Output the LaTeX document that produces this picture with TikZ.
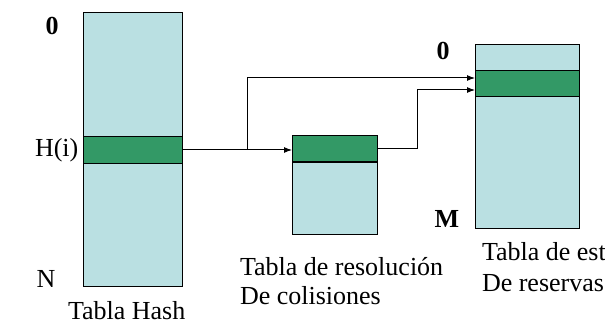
\documentclass[tikz,border=0pt]{standalone}
\usepackage{fontspec}
\setmainfont{Liberation Serif}
\newfontfamily\labelfont{Liberation Serif}
\usetikzlibrary{arrows.meta}
\definecolor{tablefill}{HTML}{BAE0E2}
\definecolor{slotfill}{HTML}{339966}

\begin{document}
\begin{tikzpicture}[
    x=1pt, y=-1pt,
    every node/.style={font=\labelfont\fontsize{26}{30}\selectfont, inner sep=0pt, outer sep=0pt},
    table/.style={draw, fill=tablefill, line width=1pt, anchor=north west},
    slot/.style={draw, fill=slotfill, line width=1pt, anchor=north west},
    link/.style={-{Latex[length=8pt,width=6pt]}, line width=1pt},
    caption/.style={anchor=base west},
    bold index/.style={anchor=base, font=\labelfont\fontsize{26}{30}\selectfont\bfseries}
    ]
    \useasboundingbox (0,0) rectangle (605,326);

    % tables
    \node[table, minimum width=99pt, minimum height=273pt] (hash) at (83,13) {};
    \node[slot, minimum width=99pt, minimum height=26pt] (hslot) at (83,137) {};
    \node[table, minimum width=85pt, minimum height=98pt] (coll) at (292,136) {};
    \node[slot, minimum width=85pt, minimum height=26pt] (cslot) at (292,136) {};
    \node[table, minimum width=104pt, minimum height=183pt] (res) at (475,45) {};
    \node[slot, minimum width=104pt, minimum height=26pt] (rslot) at (475,71) {};

    % indices
    \node[bold index] (hzero) at (52,35) {0};
    \node[anchor=base west] (hidx) at (35,157) {H(i)};
    \node[anchor=base] (hlast) at (46,287) {N};
    \node[bold index] (rzero) at (443,60) {0};
    \node[bold index] (rlast) at (447,227) {M};

    % captions
    \node[caption] (hashcap) at (68,319) {Tabla Hash};
    \node[caption] (collcap) at (240,275) {Tabla de resolución};
    \node[caption] (collcapb) at (240,304) {De colisiones};
    \node[caption] (rescap) at (482,260) {Tabla de est};
    \node[caption] (rescapb) at (482,291) {De reservas};

    % links
    \coordinate (fork) at (247,150);
    \coordinate (inA) at (475,78);
    \coordinate (bend) at (417,149);
    \coordinate (inB) at (475,90);
    \draw[link] (hslot.east) -- (hslot.east -| cslot.west);
    \draw[link] (fork) |- (inA);
    \draw[link] (cslot.east) -- (bend) |- (inB);
\end{tikzpicture}
\end{document}
